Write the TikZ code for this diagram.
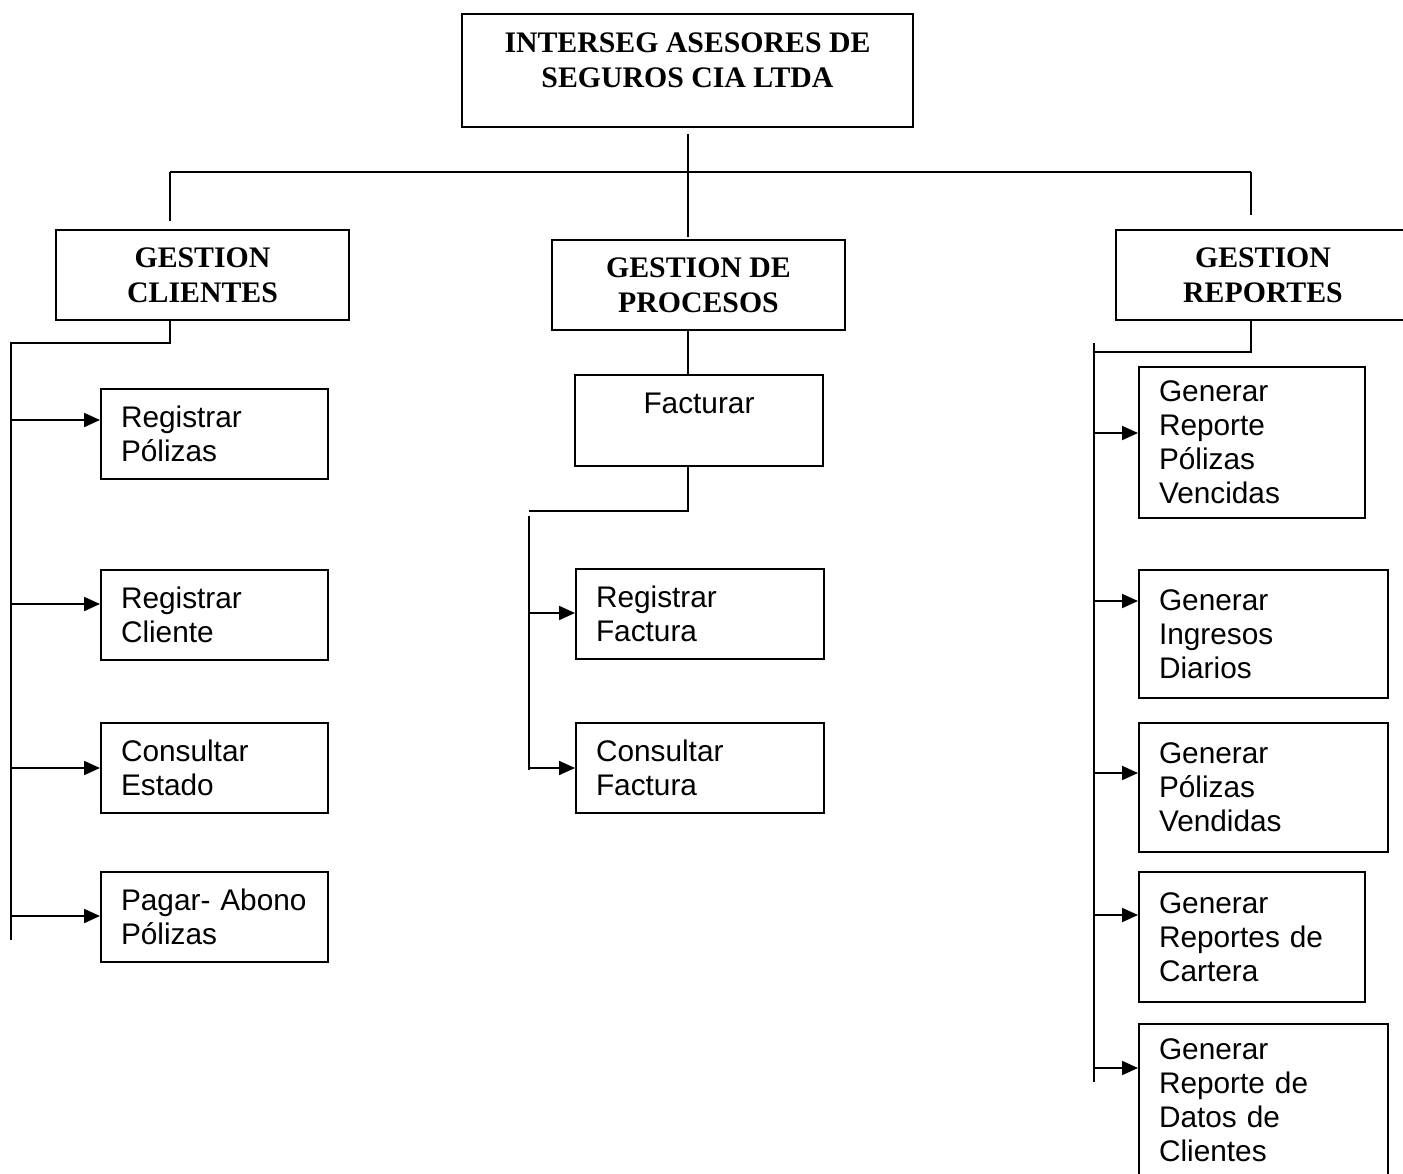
\documentclass[tikz,border=0pt]{standalone}
\usepackage{fontspec}
\setmainfont{Liberation Serif}
\setsansfont{Liberation Sans}
\usetikzlibrary{arrows.meta}
\tikzset{
  gestion/.style={draw, align=center, inner sep=0pt, font=\fontsize{14.9pt}{17.5pt}\selectfont\bfseries},
  tarea/.style={draw, anchor=north west, align=left, inner xsep=10pt, inner ysep=0pt, font=\fontsize{14.9pt}{17pt}\selectfont\sffamily},
}
\begin{document}
\begin{tikzpicture}[x=0.5pt, y=-0.5pt, line width=1pt, >={Triangle[length=8pt,width=7pt]}]
  \useasboundingbox (0,0) rectangle (1403,1173);

  \node[gestion, minimum width=225.5pt, minimum height=56.5pt] (interseg) at (687.5,70.5) {INTERSEG ASESORES DE\\SEGUROS CIA LTDA\\[-7pt]\mbox{}};
  \node[gestion, minimum width=146.5pt, minimum height=45pt] (gcli) at (202.5,275) {GESTION\\CLIENTES};
  \node[gestion, minimum width=146.5pt, minimum height=45pt] (gproc) at (698.5,285) {GESTION DE\\PROCESOS};
  \node[gestion, minimum width=147pt, minimum height=45pt] (grep) at (1263,275) {GESTION\\REPORTES};
  \node[gestion, font=\fontsize{14.9pt}{17pt}\selectfont\sffamily, minimum width=124pt, minimum height=45.5pt] (fact) at (699,420.5) {Facturar\\\mbox{}};

  \node[tarea, text width=93.5pt, minimum height=45pt] (regpol) at (100,388) {Registrar\\Pólizas};
  \node[tarea, text width=93.5pt, minimum height=45pt] (regcli) at (100,569) {Registrar\\Cliente};
  \node[tarea, text width=93.5pt, minimum height=45pt] (conest) at (100,722) {Consultar\\Estado};
  \node[tarea, text width=93.5pt, minimum height=45pt] (pagar) at (100,871) {Pagar- Abono\\Pólizas};
  \node[tarea, text width=104pt, minimum height=45pt] (regfac) at (575,568) {Registrar\\Factura};
  \node[tarea, text width=104pt, minimum height=45pt] (confac) at (575,722) {Consultar\\Factura};
  \node[tarea, text width=93pt, minimum height=75.5pt] (repven) at (1138,366) {Generar\\Reporte\\Pólizas\\Vencidas};
  \node[tarea, text width=104.5pt, minimum height=64pt] (ingdia) at (1138,569) {Generar\\Ingresos\\Diarios};
  \node[tarea, text width=104.5pt, minimum height=64.5pt] (polven) at (1138,722) {Generar\\Pólizas\\Vendidas};
  \node[tarea, text width=93pt, minimum height=65pt] (repcar) at (1138,871) {Generar\\Reportes de\\Cartera};
  \node[tarea, text width=104.5pt, minimum height=76.5pt] (repdat) at (1138,1023) {Generar\\Reporte de\\Datos de\\Clientes};

  \coordinate (busL) at (170,172);
  \coordinate (busR) at (1251,172);
  \coordinate (cliK) at (11,343);
  \coordinate (cliF) at (11,940);
  \coordinate (procK) at (529,511);
  \coordinate (procT) at (529,516);
  \coordinate (procF) at (529,770);
  \coordinate (repJ) at (1094,352);
  \coordinate (repT) at (1094,343);
  \coordinate (repF) at (1094,1082);

  \draw[shorten <=3pt, shorten >=1pt] (interseg.south) -- (interseg.south |- gproc.north);
  \draw (busL) -- (busR);
  \draw[shorten >=4pt] (busL) -- (busL |- gcli.north);
  \draw[shorten >=7pt] (busR) -- (busR |- grep.north);

  \draw (busL |- gcli.south) -- (busL |- cliK) -- (cliK) -- (cliF);
  \foreach \y/\t in {420/regpol,604/regcli,768/conest,916/pagar}
    \draw[->] (cliK |- 0,\y) -- (\t.west |- 0,\y);

  \draw (interseg.south |- gproc.south) -- (interseg.south |- fact.north);
  \draw (interseg.south |- fact.south) -- (interseg.south |- procK) -- (procK);
  \draw (procT) -- (procF);
  \foreach \y/\t in {613/regfac,768/confac}
    \draw[->] (procT |- 0,\y) -- (\t.west |- 0,\y);

  \draw (busR |- grep.south) -- (busR |- repJ) -- (repJ);
  \draw (repT) -- (repF);
  \foreach \y/\t in {433/repven,601/ingdia,773/polven,915/repcar,1068/repdat}
    \draw[->] (repT |- 0,\y) -- (\t.west |- 0,\y);
\end{tikzpicture}
\end{document}
